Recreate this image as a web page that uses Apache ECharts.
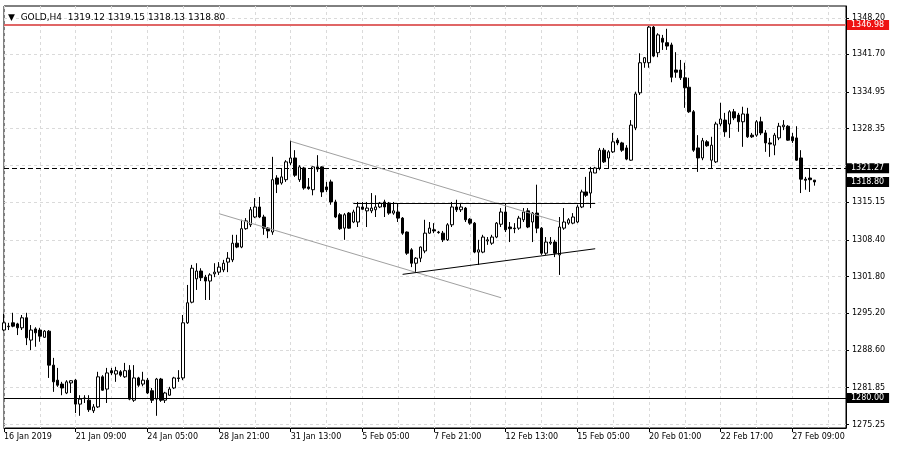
<!DOCTYPE html>
<html>
<head>
<meta charset="utf-8">
<script src="https://cdn.jsdelivr.net/npm/echarts@6/dist/echarts.min.js"></script>
<style>html,body{margin:0;padding:0;background:#fff;}#c{width:899px;height:456px;}</style>
</head>
<body>
<div id="c"></div>
<script>
// ---- data ----
const xTickLabels = ['16 Jan 2019','21 Jan 09:00','24 Jan 05:00','28 Jan 21:00','31 Jan 13:00','5 Feb 05:00','7 Feb 21:00','12 Feb 13:00','15 Feb 05:00','20 Feb 01:00','22 Feb 17:00','27 Feb 09:00'];
const barsPerLabel = 16;
const totalSlots = 189;
const yTickValues = [1275.25,1281.85,1288.60,1295.20,1301.80,1308.40,1315.15,1321.75,1328.35,1334.95,1341.70,1348.20];
const yLabelValues = [1275.25,1281.85,1288.60,1295.20,1301.80,1308.40,1315.15,1328.35,1334.95,1341.70,1348.20];

const opens = [1292.2,1292.8,1293.5,1293.3,1292.6,1294.4,1290.4,1292.4,1292.2,1290.9,
1292.0,1285.9,1283.2,1282.5,1280.9,1282.7,1283.2,1278.9,1280.0,1279.6,
1277.7,1278.4,1283.8,1281.6,1284.9,1284.3,1284.7,1283.8,1285.0,1279.6,
1283.6,1282.5,1283.2,1281.3,1279.8,1283.4,1279.6,1280.5,1281.8,1283.6,
1283.6,1293.5,1297.2,1301.4,1302.8,1301.7,1301.0,1302.3,1302.6,1303.0,
1304.4,1304.8,1307.8,1307.1,1310.4,1311.1,1312.5,1314.3,1312.5,1310.5,
1309.8,1319.5,1318.6,1319.2,1322.2,1323.1,1319.2,1321.3,1317.9,1317.4,
1321.5,1321.5,1317.9,1318.8,1315.2,1312.9,1310.5,1313.2,1311.6,1311.6,
1314.3,1313.6,1313.6,1313.8,1314.3,1315.2,1315.0,1313.2,1313.4,1312.3,
1309.8,1306.6,1304.2,1305.1,1306.4,1309.6,1310.2,1309.8,1309.6,1308.4,
1311.1,1314.3,1313.8,1314.1,1312.1,1311.4,1306.2,1306.2,1308.2,1307.8,
1308.9,1311.2,1313.4,1310.7,1310.5,1310.5,1312.0,1313.6,1311.6,1313.2,
1310.5,1306.0,1307.8,1308.0,1305.7,1310.5,1311.4,1311.4,1311.6,1314.3,
1317.0,1316.8,1320.4,1321.3,1324.5,1323.1,1324.2,1326.3,1325.8,1324.9,
1322.7,1328.5,1334.8,1340.2,1340.2,1346.6,1342.0,1344.6,1343.8,1343.4,
1338.9,1338.9,1337.5,1335.8,1331.4,1324.9,1323.1,1326.0,1322.7,1322.4,
1329.2,1329.9,1329.2,1331.4,1330.8,1329.6,1331.0,1327.2,1327.2,1329.6,
1327.6,1325.8,1325.4,1326.7,1328.7,1328.8,1326.9,1326.7,1323.1,1319.3,
1319.5,1319.12];

const closes = [1293.5,1292.9,1292.9,1292.6,1294.4,1290.8,1292.2,1291.7,1291.1,1292.0,
1285.9,1282.9,1282.3,1281.8,1282.9,1283.1,1278.9,1279.8,1279.9,1277.9,
1278.4,1283.8,1281.4,1284.5,1284.5,1284.9,1284.1,1284.9,1279.8,1283.6,
1282.3,1283.2,1280.9,1279.6,1283.4,1279.6,1280.9,1281.6,1283.6,1283.5,
1293.5,1297.1,1303.3,1302.8,1301.6,1301.0,1302.1,1302.6,1303.5,1304.2,
1305.1,1307.8,1307.1,1310.4,1311.8,1313.8,1314.3,1312.5,1310.5,1310.0,
1319.2,1318.4,1319.7,1322.4,1323.1,1320.0,1321.5,1317.7,1317.6,1321.5,
1321.1,1317.0,1317.4,1315.2,1312.5,1310.4,1312.9,1310.5,1313.4,1314.3,
1313.9,1314.1,1314.1,1314.3,1315.0,1314.3,1313.2,1313.6,1312.3,1309.6,
1306.0,1304.2,1305.1,1307.1,1309.6,1310.5,1310.0,1309.7,1308.4,1311.1,
1314.3,1313.8,1314.3,1312.0,1311.4,1306.2,1306.6,1308.9,1308.4,1308.9,
1311.4,1313.4,1310.2,1310.4,1310.4,1312.3,1313.4,1310.7,1313.2,1310.5,
1306.0,1308.0,1308.0,1306.0,1310.7,1311.6,1312.0,1312.5,1314.3,1317.0,
1316.4,1320.6,1321.3,1324.5,1322.4,1324.2,1326.0,1325.8,1324.5,1322.9,
1329.0,1334.6,1340.2,1341.1,1346.6,1341.4,1345.2,1343.9,1343.2,1337.6,
1338.5,1337.5,1335.7,1331.4,1324.5,1323.1,1326.2,1325.3,1325.4,1329.2,
1330.1,1327.8,1331.4,1330.3,1329.6,1331.0,1326.9,1326.9,1329.6,1327.6,
1325.8,1325.6,1327.2,1328.8,1329.0,1326.3,1326.2,1322.7,1319.3,1319.1,
1319.2,1318.80];

const lows = [1292.0,1292.2,1292.7,1291.3,1292.2,1289.5,1288.6,1289.2,1290.1,1290.8,
1283.6,1281.1,1282.0,1280.5,1280.7,1280.9,1277.3,1276.8,1279.1,1277.5,
1277.3,1278.2,1281.3,1279.1,1284.1,1282.9,1283.8,1283.6,1279.6,1279.3,
1282.0,1282.1,1280.7,1279.1,1276.8,1279.3,1279.1,1280.4,1281.6,1282.9,
1283.2,1293.3,1297.0,1299.4,1301.0,1297.6,1297.6,1301.7,1302.1,1302.6,
1302.6,1304.4,1306.9,1306.9,1310.2,1310.7,1312.3,1312.3,1309.3,1308.7,
1309.3,1316.8,1318.3,1318.8,1321.8,1319.7,1318.8,1317.4,1317.4,1316.4,
1320.6,1316.1,1317.0,1314.7,1312.3,1310.2,1308.4,1310.4,1311.4,1310.7,
1313.8,1310.7,1313.2,1312.5,1314.1,1312.5,1312.9,1312.9,1311.6,1309.3,
1305.7,1303.5,1302.6,1304.4,1306.0,1309.5,1309.6,1309.5,1308.0,1308.2,
1310.7,1313.4,1313.4,1311.6,1311.1,1306.0,1303.9,1306.0,1307.5,1307.5,
1308.7,1310.7,1309.8,1308.0,1309.6,1310.2,1311.6,1310.5,1308.0,1309.6,
1305.7,1305.7,1307.5,1305.3,1302.1,1310.2,1311.1,1311.2,1311.4,1314.1,
1316.1,1314.1,1320.4,1320.9,1322.2,1321.3,1324.0,1325.4,1324.2,1322.7,
1322.6,1328.1,1334.4,1339.3,1339.3,1341.2,1341.2,1342.5,1342.5,1336.7,
1337.5,1337.1,1332.1,1331.2,1324.2,1320.6,1322.7,1325.1,1321.3,1322.2,
1328.8,1326.9,1326.7,1329.9,1327.8,1325.1,1326.7,1326.7,1326.9,1327.2,
1324.2,1323.3,1323.6,1326.3,1328.1,1326.2,1325.8,1322.6,1316.8,1317.4,
1317.0,1318.13];

const highs = [1295.1,1293.5,1295.3,1293.5,1294.9,1295.3,1293.1,1292.7,1292.6,1292.2,
1292.2,1287.2,1285.4,1282.9,1283.2,1283.2,1283.4,1280.5,1280.5,1280.5,
1278.9,1284.7,1284.1,1285.4,1285.4,1285.6,1285.0,1286.3,1285.9,1285.9,
1283.8,1284.7,1283.6,1281.8,1283.6,1283.6,1281.1,1282.0,1283.8,1285.0,
1294.9,1300.3,1303.9,1304.2,1303.3,1302.1,1302.4,1304.2,1304.4,1304.8,
1306.2,1309.3,1309.3,1312.0,1312.3,1314.3,1315.9,1316.1,1312.9,1310.7,
1323.3,1320.0,1321.3,1322.7,1326.2,1324.5,1321.8,1321.5,1319.5,1321.6,
1323.6,1321.6,1318.8,1319.2,1315.6,1313.2,1313.2,1313.4,1313.8,1315.2,
1315.2,1315.2,1316.8,1316.4,1315.2,1315.6,1315.2,1315.2,1315.0,1312.5,
1309.9,1306.9,1305.3,1307.2,1312.0,1311.6,1311.4,1310.0,1310.0,1311.4,
1315.2,1315.6,1315.0,1314.3,1312.3,1311.6,1308.4,1309.3,1308.9,1309.3,
1311.6,1314.1,1315.0,1311.6,1311.4,1312.7,1314.1,1314.1,1313.4,1318.3,
1310.7,1308.9,1308.9,1308.4,1312.5,1314.1,1312.3,1313.2,1314.7,1317.4,
1319.7,1321.5,1321.5,1324.9,1324.9,1324.5,1327.6,1326.7,1326.0,1325.4,
1329.9,1335.0,1341.9,1341.2,1346.98,1346.8,1345.5,1345.2,1346.3,1343.8,
1342.1,1340.7,1340.2,1337.5,1331.7,1327.2,1326.7,1326.3,1326.9,1329.6,
1333.0,1331.2,1331.7,1331.9,1331.2,1332.3,1332.1,1327.6,1329.9,1330.5,
1328.1,1326.7,1327.6,1329.4,1329.9,1329.0,1327.6,1328.8,1324.5,1319.7,
1321.3,1319.15];

// horizontal levels
const levelHigh = 1346.98;
const levelResist = 1321.27;
const levelBid = 1318.80;
const levelSupport = 1280.00;
// drawn trend lines: [barIndex, price] pairs
const channelUpper = [[64, 1326.1], [124, 1311.6]];
const channelLower = [[48, 1313.1], [110.6, 1298.0]];
const flatLine = [[78, 1314.9], [132, 1314.9]];
const risingLine = [[89, 1302.2], [132, 1306.8]];

const titleText = 'GOLD,H4  1319.12 1319.15 1318.13 1318.80';

// ---- build ----
const categories = Array.from({length: totalSlots}, (_, i) => String(i));
const candles = opens.map((o, i) => [o, closes[i], lows[i], highs[i]]);
const FONT = 'DejaVu Sans';

function seg(pts, color, dash) {
  return [
    {coord: pts[0], lineStyle: {color: color, width: 1, type: dash || 'solid'}, label: {show: false}, symbol: 'none'},
    {coord: pts[1], symbol: 'none'}
  ];
}
function level(v, lineColor, lineType, lineWidth, boxColor) {
  return {
    yAxis: v,
    lineStyle: {color: lineColor, type: lineType, width: lineWidth},
    label: {
      show: true, position: 'end', distance: 1,
      formatter: v.toFixed(2),
      color: '#fff', backgroundColor: boxColor,
      fontFamily: FONT, fontSize: 8, padding: [1, 5, 1, 4]
    }
  };
}

const chart = echarts.init(document.getElementById('c'), null, {renderer: 'canvas'});
chart.setOption({
  animation: false,
  backgroundColor: '#fff',
  title: {
    text: '\u25BC  ' + titleText,
    left: 3, top: 8,
    textStyle: {fontFamily: FONT, fontSize: 9, fontWeight: 'normal', color: '#000'}
  },
  grid: {left: 4, right: 53, top: 6, bottom: 28, show: true, borderColor: '#000', borderWidth: 1, backgroundColor: '#fff'},
  xAxis: {
    type: 'category',
    data: categories,
    boundaryGap: false,
    axisLine: {show: true, lineStyle: {color: '#000', width: 1}},
    axisTick: {show: true, interval: barsPerLabel - 1, length: 4, lineStyle: {color: '#000'}},
    axisLabel: {
      interval: barsPerLabel - 1, align: 'left', margin: 5,
      fontFamily: FONT, fontSize: 8, color: '#000',
      formatter: (v) => { const i = +v; return (i % barsPerLabel === 0 && xTickLabels[i / barsPerLabel]) ? xTickLabels[i / barsPerLabel] : ''; }
    },
    splitLine: {show: true, interval: barsPerLabel / 2 - 1, lineStyle: {color: '#dadada', type: [3, 3], width: 1}}
  },
  yAxis: {
    type: 'value',
    position: 'right',
    min: 1274.61, max: 1350.39,
    scale: true,
    axisLine: {show: true, lineStyle: {color: '#000', width: 1}},
    axisTick: {show: true, length: 3, lineStyle: {color: '#000'}, customValues: yTickValues},
    axisLabel: {
      customValues: yLabelValues, margin: 6,
      fontFamily: FONT, fontSize: 8, color: '#000',
      formatter: (v) => Number(v).toFixed(2)
    },
    splitLine: {show: true, lineStyle: {color: '#dadada', type: [3, 3], width: 1}}
  },
  series: [{
    type: 'candlestick',
    data: candles,
    barWidth: 3,
    itemStyle: {color: '#fff', color0: '#000', borderColor: '#000', borderColor0: '#000', borderWidth: 1},
    markLine: {
      silent: true,
      symbol: 'none',
      animation: false,
      data: [
        level(levelHigh, '#e06666', 'solid', 2, '#ee1111'),
        level(levelResist, '#000', [5, 3], 1, '#000'),
        level(levelBid, 'rgba(0,0,0,0)', 'solid', 0, '#000'),
        level(levelSupport, '#000', 'solid', 1, '#000'),
        seg(channelUpper, '#a0a0a0'),
        seg(channelLower, '#a0a0a0'),
        seg(flatLine, '#000'),
        seg(risingLine, '#000')
      ]
    }
  }]
});
</script>
</body>
</html>
